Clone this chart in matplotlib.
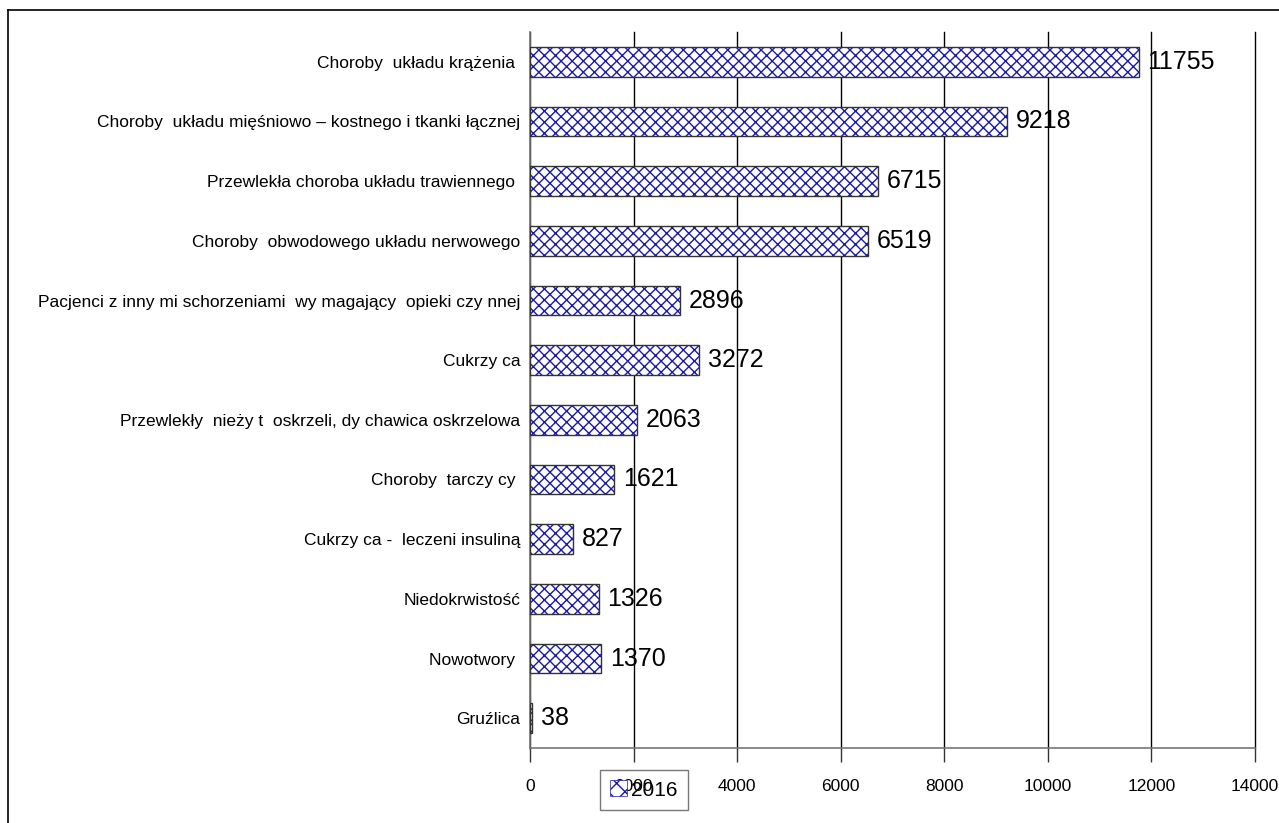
import matplotlib.pyplot as plt
from matplotlib.patches import Patch
from matplotlib.lines import Line2D

plt.rcParams['font.family'] = ['Liberation Sans', 'DejaVu Sans']
plt.rcParams['hatch.linewidth'] = 1.0

categories = ['Choroby  układu krążenia ',
              'Choroby  układu mięśniowo – kostnego i tkanki łącznej',
              'Przewlekła choroba układu trawiennego ',
              'Choroby  obwodowego układu nerwowego',
              'Pacjenci z inny mi schorzeniami  wy magający  opieki czy nnej',
              'Cukrzy ca',
              'Przewlekły  nieży t  oskrzeli, dy chawica oskrzelowa',
              'Choroby  tarczy cy ',
              'Cukrzy ca -  leczeni insuliną',
              'Niedokrwistość',
              'Nowotwory ',
              'Gruźlica']
values = [11755, 9218, 6715, 6519, 2896, 3272, 2063, 1621, 827, 1326, 1370, 38]
xticks = [0, 2000, 4000, 6000, 8000, 10000, 12000, 14000]
series_name = '2016'

hatch_col = '#1a1aa6'

fig = plt.figure(figsize=(12.79, 8.23), dpi=100)
ax = fig.add_axes([530/1279, 1-748/823, 725/1279, 716/823])

ypos = list(range(len(categories)))
ax.barh(ypos, values, height=0.5, color='white', edgecolor=hatch_col,
        hatch='xxx', linewidth=0, zorder=3)
ax.barh(ypos, values, height=0.5, fill=False, edgecolor='#333333',
        linewidth=1.0, zorder=4)

for y, v in zip(ypos, values):
    ax.text(v + 170, y, str(v), va='center', ha='left', fontsize=18, zorder=5)

ax.set_ylim(len(categories) - 0.5, -0.5)
ax.set_xlim(0, 14000)
ax.set_xticks(xticks)
ax.set_xticklabels([str(t) for t in xticks], fontsize=12.5)
ax.set_yticks(ypos)
ax.set_yticklabels(categories, fontsize=12.5)
ax.tick_params(axis='y', length=0, pad=7)
ax.tick_params(axis='x', length=10, width=1, color='#333333', pad=12)

ax.xaxis.grid(True, color='black', linewidth=1.0, zorder=0)
for gl in ax.get_xgridlines():
    gl.set_clip_on(False)
ax.set_axisbelow(True)
for s in ['top', 'right']:
    ax.spines[s].set_visible(False)
for s in ['left', 'bottom']:
    ax.spines[s].set_color('#777777')
    ax.spines[s].set_linewidth(1.2)

handle = Patch(facecolor='white', edgecolor=hatch_col, hatch='xx', linewidth=0.5)
leg = fig.legend([handle], [series_name], loc='center',
                 bbox_to_anchor=(644/1279, 1-790/823), fontsize=15,
                 frameon=True, fancybox=False, handlelength=0.8,
                 handleheight=0.8, handletextpad=0.2, borderpad=0.5)
leg.get_frame().set_edgecolor('#555555')
leg.get_frame().set_facecolor('none')
leg.get_frame().set_linewidth(1.0)

# outer border (left and top only visible)
fig.add_artist(Line2D([8/1279, 8/1279], [0, 1-10/823], color='black',
                      linewidth=1.2, transform=fig.transFigure))
fig.add_artist(Line2D([8/1279, 1], [1-10/823, 1-10/823], color='black',
                      linewidth=1.2, transform=fig.transFigure))

fig.savefig('out.png', dpi=100)
